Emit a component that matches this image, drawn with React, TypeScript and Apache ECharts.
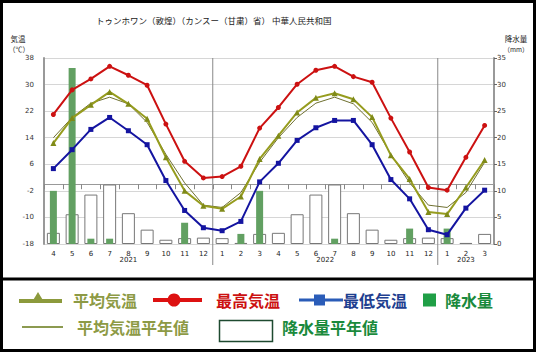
import React, { useEffect, useRef } from 'react';
import * as echarts from 'echarts';

// ---- data ----
const months = ['4', '5', '6', '7', '8', '9', '10', '11', '12', '1', '2', '3', '4', '5', '6', '7', '8', '9', '10', '11', '12', '1', '2', '3'];
const years = ['2021', '2022', '2023'];

const maxTemp = [21.0, 28.4, 31.7, 35.5, 32.8, 29.8, 18.1, 6.9, 1.9, 2.3, 5.4, 16.9, 23.1, 30.1, 34.3, 35.5, 32.4, 30.7, 19.9, 9.7, -1.0, -1.8, 8.1, 17.7];
const minTemp = [4.7, 10.4, 16.5, 20.1, 16.1, 11.9, 1.1, -7.9, -13.1, -14.0, -11.2, 0.7, 6.3, 13.2, 17.0, 19.2, 19.2, 11.9, 1.4, -4.4, -13.7, -15.2, -7.2, -1.8];
const avgTemp = [12.4, 19.9, 23.9, 27.8, 24.2, 19.7, 8.1, -2.0, -6.5, -7.4, -3.7, 7.6, 14.6, 21.6, 26.0, 27.4, 25.6, 20.2, 8.7, 1.6, -8.4, -9.0, -1.0, 7.3];
const normalAvgTemp = [14.0, 20.1, 24.4, 26.2, 24.2, 18.6, 9.0, 0.4, -6.3, -7.0, -2.5, 6.6, 14.0, 20.1, 24.4, 26.2, 24.2, 18.6, 9.0, 0.4, -6.3, -7.0, -2.5, 6.6];
const precip = [10.0, 33.1, 1.0, 1.0, 0, 0, 0, 4.0, 0, 0, 1.9, 10.0, 0, 0, 0, 1.0, 0, 0, 0, 2.9, 0, 2.9, 0, 0];
const normalPrecip = [2.1, 5.6, 9.3, 11.2, 5.8, 2.7, 0.8, 1.1, 1.2, 1.1, 0.2, 1.9, 2.1, 5.6, 9.3, 11.2, 5.8, 2.7, 0.8, 1.1, 1.2, 1.1, 0.2, 1.9];

const tempMin = -18;
const tempMax = 38;
const tempStep = 8;
const precipMin = 0;
const precipMax = 35;
const precipStep = 5;

const title = 'トゥンホワン（敦煌）（カンスー（甘粛）省） 中華人民共和国';

export default function App() {
  const ref = useRef<HTMLDivElement>(null);
  useEffect(() => {
    document.body.style.margin = '0';
    const chart = echarts.init(ref.current!, null, { renderer: 'svg' });
    const FONT = '"Noto Sans CJK JP", "Noto Sans", sans-serif';
    const C = {
      avg: '#969c1e',
      avgMark: '#7f8a18',
      normal: '#6f7030',
      max: '#cc1111',
      min: '#1414a0',
      rain: '#62a062',
    };
    chart.setOption({
      animation: false,
      backgroundColor: '#fff',
      textStyle: { fontFamily: FONT },
      grid: { left: 44, right: 43, top: 58, bottom: 111 },
      xAxis: [
        {
          type: 'category', data: months, boundaryGap: true,
          axisLine: { lineStyle: { color: '#999', width: 1 } },
          axisTick: { show: true, length: 5, lineStyle: { color: '#888' } },
          axisLabel: { fontSize: 7, color: '#222', margin: 6, interval: 0, fontFamily: 'DejaVu Sans' },
          splitLine: { show: false },
        },
        { type: 'category', data: months, show: false },
      ],
      yAxis: [
        {
          type: 'value', min: tempMin, max: tempMax, interval: tempStep, position: 'left',
          axisLine: { show: true, lineStyle: { color: '#999', width: 2 } },
          axisTick: { show: false },
          axisLabel: { fontSize: 7, color: '#333', margin: 10, fontFamily: 'DejaVu Sans' },
          splitLine: { show: true, lineStyle: { color: '#d6d6d6', width: 1 } },
        },
        {
          type: 'value', min: precipMin, max: precipMax, interval: precipStep, position: 'right',
          axisLine: { show: true, lineStyle: { color: '#999', width: 2 } },
          axisTick: { show: true, length: 3, lineStyle: { color: '#666' } },
          axisLabel: { fontSize: 7, color: '#333', margin: 3, fontFamily: 'DejaVu Sans' },
          splitLine: { show: false },
        },
      ],
      series: [
        {
          name: '降水量平年値', type: 'bar', xAxisIndex: 1, yAxisIndex: 1, data: normalPrecip, barWidth: 13,
          itemStyle: { color: '#fff', borderColor: '#777', borderWidth: 1 }, z: 1,
        },
        {
          name: '降水量', type: 'bar', xAxisIndex: 0, yAxisIndex: 1, data: precip, barWidth: 7,
          itemStyle: { color: C.rain }, z: 2,
        },
        {
          name: '平均気温平年値', type: 'line', data: normalAvgTemp, symbol: 'none',
          lineStyle: { color: C.normal, width: 1 }, z: 3,
        },
        {
          name: '平均気温', type: 'line', data: avgTemp, symbol: 'triangle', symbolSize: 6,
          itemStyle: { color: C.avgMark }, lineStyle: { color: C.avg, width: 2 }, z: 4,
        },
        {
          name: '最高気温', type: 'line', data: maxTemp, symbol: 'circle', symbolSize: 5,
          itemStyle: { color: C.max }, lineStyle: { color: C.max, width: 2 }, z: 5,
        },
        {
          name: '最低気温', type: 'line', data: minTemp, symbol: 'rect', symbolSize: 5,
          itemStyle: { color: C.min }, lineStyle: { color: C.min, width: 2 }, z: 5,
        },
      ],
    });

    // positions from the library's scales
    const px = (i: number) => chart.convertToPixel({ xAxisIndex: 0 }, i) as number;
    const yTop = chart.convertToPixel({ yAxisIndex: 0 }, tempMax) as number;
    const yBot = chart.convertToPixel({ yAxisIndex: 0 }, tempMin) as number;

    // find year segments (a new year starts at month '1')
    const segs: { start: number; end: number }[] = [];
    let s = 0;
    months.forEach((m, i) => {
      if (i > 0 && m === '1') { segs.push({ start: s, end: i - 1 }); s = i; }
    });
    segs.push({ start: s, end: months.length - 1 });

    const g: any[] = [];
    segs.forEach((seg, k) => {
      const cx = (px(seg.start) + px(seg.end)) / 2;
      g.push({ type: 'text', x: cx, y: yBot + 16, style: { text: years[k], fontSize: 7, fill: '#222', align: 'center', verticalAlign: 'middle', fontFamily: 'DejaVu Sans' }, z: 10 });
      if (k > 0) {
        const bx = (px(seg.start - 1) + px(seg.start)) / 2;
        g.push({ type: 'line', shape: { x1: bx, y1: yTop, x2: bx, y2: yBot + 21 }, style: { stroke: '#888', lineWidth: 1 }, z: 0 });
      }
    });

    const legendFont = 'bold 16px "Noto Sans CJK JP", sans-serif';
    const r1 = 300;
    const r2 = 327;
    g.push(
      // frame
      { type: 'rect', shape: { x: 1.5, y: 1.5, width: 533, height: 349 }, style: { fill: 'none', stroke: '#000', lineWidth: 3 }, z: 20 },
      { type: 'line', shape: { x1: 0, y1: 279, x2: 536, y2: 279 }, style: { stroke: '#000', lineWidth: 3 }, z: 20 },
      // title
      { type: 'text', x: 96, y: 20, style: { text: title, fontSize: 8.5, fill: '#222', verticalAlign: 'middle', fontFamily: FONT }, z: 10 },
      // axis names
      { type: 'text', x: 18, y: 38.5, style: { text: '気温', fontSize: 7.5, fill: '#222', align: 'center', verticalAlign: 'middle', fontFamily: FONT }, z: 10 },
      { type: 'text', x: 19, y: 49, style: { text: '（℃）', fontSize: 7, fill: '#222', align: 'center', verticalAlign: 'middle', fontFamily: FONT }, z: 10 },
      { type: 'text', x: 516, y: 38.5, style: { text: '降水量', fontSize: 7.5, fill: '#222', align: 'center', verticalAlign: 'middle', fontFamily: FONT }, z: 10 },
      { type: 'text', x: 516, y: 49, style: { text: '（mm）', fontSize: 6.5, fill: '#222', align: 'center', verticalAlign: 'middle', fontFamily: FONT }, z: 10 },
      // legend row 1
      { type: 'line', shape: { x1: 19, y1: r1 + 1, x2: 62, y2: r1 + 1 }, style: { stroke: '#8c9a3c', lineWidth: 4 }, z: 10 },
      { type: 'polygon', shape: { points: [[38, r1 - 8], [32, r1 + 2], [44, r1 + 2]] }, style: { fill: '#8c9a3c' }, z: 11 },
      { type: 'text', x: 73, y: r1, style: { text: '平均気温', font: legendFont, fill: '#8d9a45', verticalAlign: 'middle' }, z: 10 },
      { type: 'line', shape: { x1: 153, y1: r1, x2: 202, y2: r1 }, style: { stroke: '#dd1111', lineWidth: 4 }, z: 10 },
      { type: 'circle', shape: { cx: 174, cy: r1, r: 6.5 }, style: { fill: '#dd1111' }, z: 11 },
      { type: 'text', x: 216, y: r1, style: { text: '最高気温', font: legendFont, fill: '#cc1111', verticalAlign: 'middle' }, z: 10 },
      { type: 'line', shape: { x1: 299, y1: r1, x2: 343, y2: r1 }, style: { stroke: '#2a5cb8', lineWidth: 3 }, z: 10 },
      { type: 'rect', shape: { x: 314, y: r1 - 5.5, width: 11, height: 11 }, style: { fill: '#2a5cb8' }, z: 11 },
      { type: 'text', x: 343, y: r1, style: { text: '最低気温', font: legendFont, fill: '#1f3f90', verticalAlign: 'middle' }, z: 10 },
      { type: 'rect', shape: { x: 423, y: r1 - 6.5, width: 13, height: 13 }, style: { fill: '#1f9f46' }, z: 10 },
      { type: 'text', x: 445, y: r1, style: { text: '降水量', font: legendFont, fill: '#1a8a3c', verticalAlign: 'middle' }, z: 10 },
      // legend row 2
      { type: 'line', shape: { x1: 22, y1: r2, x2: 63, y2: r2 }, style: { stroke: '#8c9a50', lineWidth: 2 }, z: 10 },
      { type: 'text', x: 77, y: r2, style: { text: '平均気温平年値', font: legendFont, fill: '#8d9a45', verticalAlign: 'middle' }, z: 10 },
      { type: 'rect', shape: { x: 219.5, y: 320.5, width: 53, height: 21 }, style: { fill: '#fff', stroke: '#1e4a30', lineWidth: 1.5 }, z: 10 },
      { type: 'text', x: 282, y: r2, style: { text: '降水量平年値', font: legendFont, fill: '#1a8a3c', verticalAlign: 'middle' }, z: 10 },
    );
    chart.setOption({ graphic: g });

    return () => chart.dispose();
  }, []);
  return <div ref={ref} style={{ position: 'fixed', left: 0, top: 0, width: 537, height: 355 }} />;
}
